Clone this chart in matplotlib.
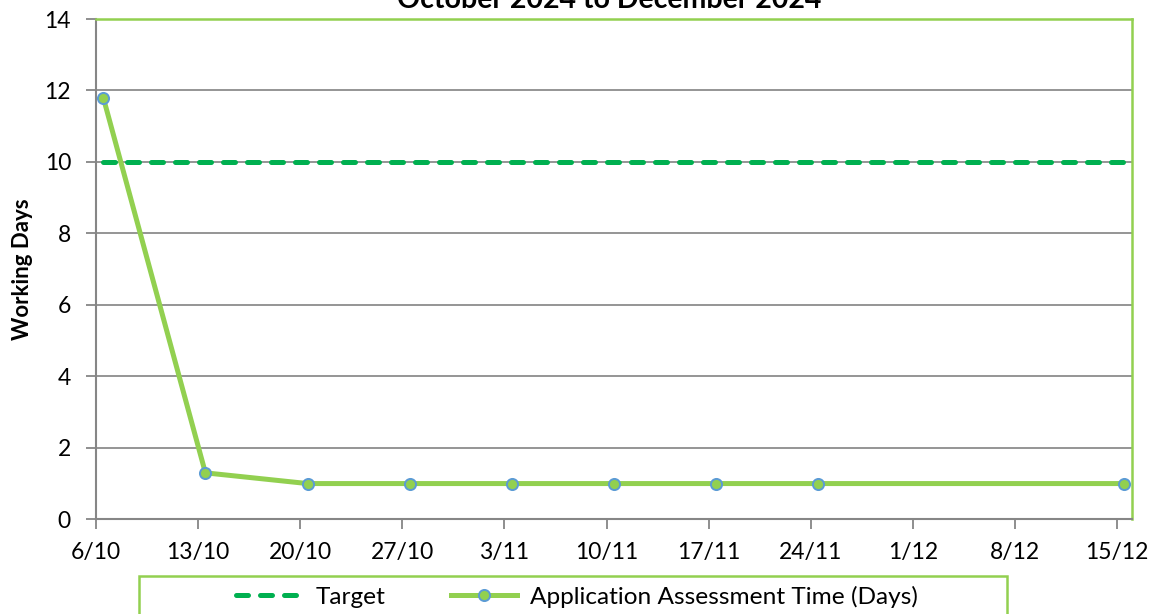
import numpy as np
import matplotlib.pyplot as plt
from matplotlib.patches import Rectangle
from datetime import datetime, timedelta

plt.rcParams['font.family'] = ['Lato', 'DejaVu Sans']

# weekly reporting dates (values recorded at midday)
week_starts = ['2024-10-06', '2024-10-13', '2024-10-20', '2024-10-27', '2024-11-03',
               '2024-11-10', '2024-11-17', '2024-11-24', '2024-12-01', '2024-12-08',
               '2024-12-15']
tick_labels = ['6/10', '13/10', '20/10', '27/10', '3/11', '10/11', '17/11', '24/11',
               '1/12', '8/12', '15/12']
target = [10, 10, 10, 10, 10, 10, 10, 10, 10, 10, 10]
assess_days = [11.8, 1.3, 1.0, 1.0, 1.0, 1.0, 1.0, 1.0, np.nan, np.nan, 1.0]

ticks = [datetime.strptime(d, '%Y-%m-%d') for d in week_starts]
pts = [t + timedelta(hours=12) for t in ticks]
assess = np.array(assess_days, dtype=float)
ok = ~np.isnan(assess)
pts_ok = [p for p, k in zip(pts, ok) if k]

fig = plt.figure(figsize=(11.61, 6.14), dpi=100)
ax = fig.add_axes([96/1161, 1 - 519.3/614, (1131.7 - 96)/1161, (519.3 - 19)/614])

for y in range(2, 15, 2):
    ax.axhline(y, color='#8c8c8c', lw=1.3, zorder=1)

ax.plot(pts, target, color='#00B050', lw=3.6, linestyle=(0, (2.4, 2.4)),
        dash_capstyle='round', zorder=3, label='Target')
ax.plot(pts_ok, assess[ok], color='#92D050', lw=3.6, marker='o', markersize=8,
        markerfacecolor='#92D050', markeredgecolor='#5B9BD5', markeredgewidth=1.4,
        zorder=4, label='Application Assessment Time (Days)')

ax.set_xlim(ticks[0], ticks[-1] + timedelta(days=1))
ax.set_ylim(0, 14)
ax.set_yticks(range(0, 15, 2))
ax.set_xticks(ticks)
ax.set_xticklabels(tick_labels)
ax.tick_params(axis='both', labelsize=16.5, color='#868686', length=7, width=1.3)
ax.tick_params(axis='x', pad=9)
ax.tick_params(axis='y', pad=11)

for side in ['left', 'bottom']:
    ax.spines[side].set_color('#868686')
    ax.spines[side].set_linewidth(1.5)
for side in ['top', 'right']:
    ax.spines[side].set_color('#92D050')
    ax.spines[side].set_linewidth(1.8)

ax.set_ylabel('Working Days', fontsize=16, fontweight='bold', labelpad=8)

fig.text(0.525, 1 - 8.5/614, 'October 2024 to December 2024', ha='center', va='baseline',
         fontsize=20.5, fontweight='bold')

fig.patches.append(Rectangle((139/1161, -0.05), (1007 - 139)/1161, 0.05 + (614 - 576)/614,
                             transform=fig.transFigure, fill=False, edgecolor='#92D050',
                             lw=1.8))
fig.legend(loc='center', bbox_to_anchor=(0.497, 1 - 597/614), ncol=2, frameon=False,
           fontsize=17.6, handlelength=2.7, columnspacing=2.7, handletextpad=0.55)

fig.savefig('out.png', dpi=100)
